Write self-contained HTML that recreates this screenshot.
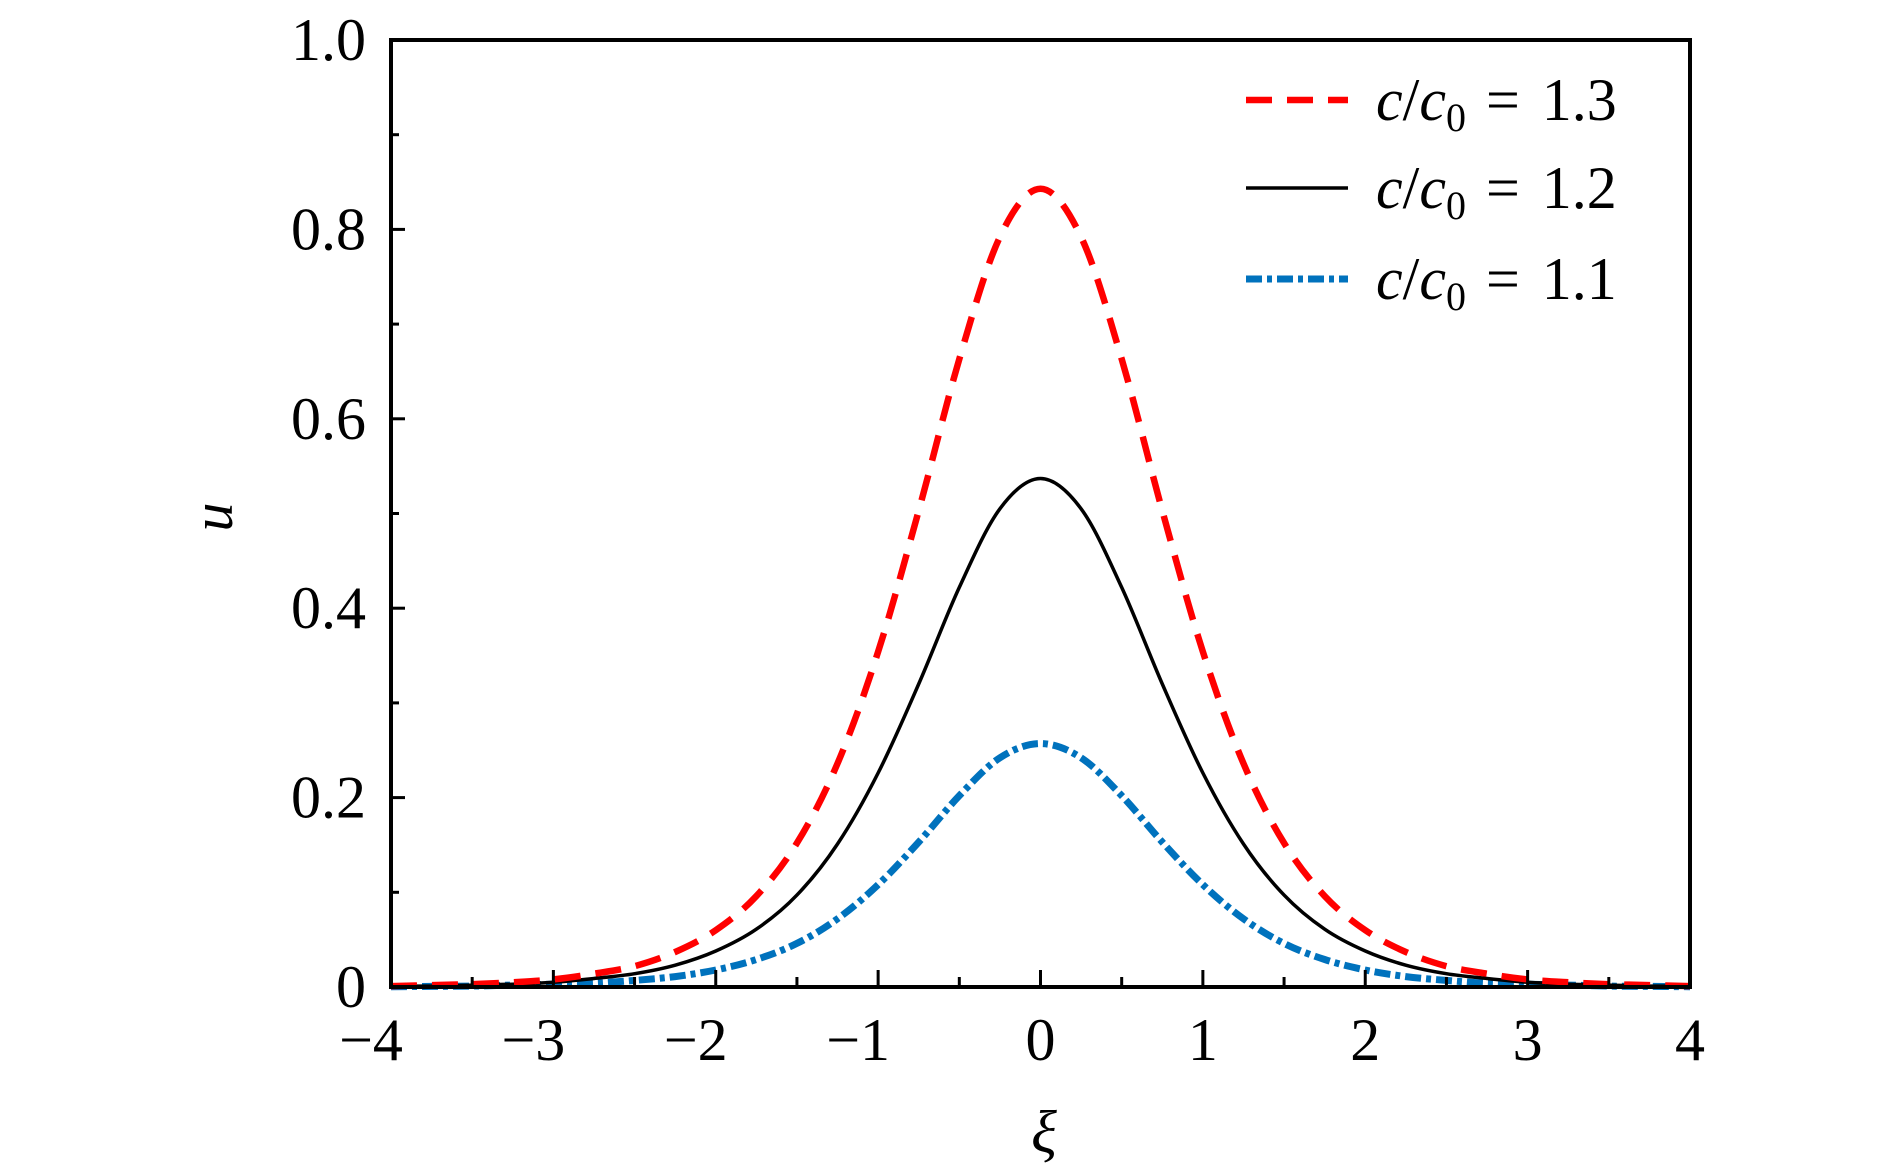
<!DOCTYPE html>
<html><head><meta charset="utf-8"><style>
html,body{margin:0;padding:0;background:#fff;}
svg{display:block;font-family:"Liberation Serif","DejaVu Serif",serif;}
</style></head><body>
<svg id="chart" width="1890" height="1170" viewBox="0 0 1890 1170" xmlns="http://www.w3.org/2000/svg">
<g id="marks"></g>
<g id="axes"></g>
<g id="legend"></g>
<text x="0" y="0" font-size="58" font-style="italic" text-anchor="middle" transform="translate(232,517) rotate(-90)">u</text>
<text x="1044" y="1152" font-size="60" font-style="italic" text-anchor="middle">ξ</text>
</svg>
<script>
const xHalf = [0,0.25,0.5,0.75,1,1.25,1.5,1.75,2,2.25,2.5,2.75,3,3.25,3.5,3.75,4];
const red13 = [0.843,0.792,0.663,0.503,0.354,0.236,0.152,0.096,0.060,0.037,0.022,0.014,0.008,0.005,0.003,0.002,0.001];
const black12 = [0.537,0.505,0.422,0.320,0.226,0.151,0.097,0.061,0.038,0.023,0.014,0.009,0.005,0.003,0.002,0.001,0.001];
const blue11 = [0.257,0.242,0.202,0.153,0.108,0.072,0.046,0.029,0.018,0.011,0.007,0.004,0.003,0.002,0.001,0.0006,0.0003];
const xTickLabels = ["−4","−3","−2","−1","0","1","2","3","4"];
const yTickLabels = ["0","0.2","0.4","0.6","0.8","1.0"];
const legendLabels = ["1.3","1.2","1.1"];

const NS="http://www.w3.org/2000/svg";
const L=391,R=1690,T=40,B=987;
const xs=v=>L+(v+4)/8*(R-L);
const ys=v=>B-v*(B-T);
function mk(tag,attrs,parent){const e=document.createElementNS(NS,tag);for(const k in attrs)e.setAttribute(k,attrs[k]);parent.appendChild(e);return e;}
const marks=document.getElementById('marks'),axes=document.getElementById('axes'),legend=document.getElementById('legend');

function fullPts(vals){
  const pts=[];
  for(let i=xHalf.length-1;i>0;i--)pts.push([xs(-xHalf[i]),ys(vals[i])]);
  for(let i=0;i<xHalf.length;i++)pts.push([xs(xHalf[i]),ys(vals[i])]);
  return pts;
}
function smooth(p){
  let d="M"+p[0][0].toFixed(1)+","+p[0][1].toFixed(1);
  for(let i=0;i<p.length-1;i++){
    const p0=p[Math.max(0,i-1)],p1=p[i],p2=p[i+1],p3=p[Math.min(p.length-1,i+2)];
    const c1=[p1[0]+(p2[0]-p0[0])/6,p1[1]+(p2[1]-p0[1])/6];
    const c2=[p2[0]-(p3[0]-p1[0])/6,p2[1]-(p3[1]-p1[1])/6];
    d+=" C"+c1[0].toFixed(1)+","+c1[1].toFixed(1)+" "+c2[0].toFixed(1)+","+c2[1].toFixed(1)+" "+p2[0].toFixed(1)+","+p2[1].toFixed(1);
  }
  return d;
}
const styles=[
  {vals:blue11,stroke:"#0072BD",w:7,dash:"16 5 5 5",name:"series-c-1-1"},
  {vals:black12,stroke:"#000",w:3.5,dash:"none",name:"series-c-1-2"},
  {vals:red13,stroke:"#FF0000",w:6.5,dash:"26 15",name:"series-c-1-3"}
];
styles.forEach(s=>{
  const p=mk('path',{d:smooth(fullPts(s.vals)),fill:"none",stroke:s.stroke,"stroke-width":s.w,"stroke-dasharray":s.dash},marks);
  
  
});

const fr=mk('rect',{x:L,y:T,width:R-L,height:B-T,fill:"none",stroke:"#000","stroke-width":4},axes);


for(let k=1;k<16;k++){
  const v=-4+k*0.5,major=k%2===0,len=major?17:10;
  const t=mk('line',{x1:xs(v),x2:xs(v),y1:B,y2:B-len,stroke:"#000","stroke-width":3},axes);
  
  
}
xTickLabels.forEach((lab,i)=>{
  const t=mk('text',{x:xs(-4+i)-(lab.length>1?20:0),y:1060,"font-size":60,"text-anchor":"middle"},axes);
  t.textContent=lab;
  
  
});
for(let k=1;k<10;k++){
  const v=k*0.1,major=k%2===0,len=major?14:8;
  const t=mk('line',{x1:L,x2:L+len,y1:ys(v),y2:ys(v),stroke:"#000","stroke-width":3},axes);
  
  
}
yTickLabels.forEach((lab,i)=>{
  const t=mk('text',{x:366,y:ys(i*0.2)+20,"font-size":60,"text-anchor":"end"},axes);
  t.textContent=lab;
  
  
});
const legStyles=[styles[2],styles[1],styles[0]];
const legY=[100,188,279];
legendLabels.forEach((lab,i)=>{
  const s=legStyles[i];
  const ln=mk('line',{x1:1246,x2:1348,y1:legY[i],y2:legY[i],stroke:s.stroke,"stroke-width":s.w,"stroke-dasharray":s.dash},legend);
  
  
  const t=mk('text',{x:1376,y:legY[i]+20,"font-size":60},legend);
  t.innerHTML='<tspan font-style="italic">c</tspan>/<tspan font-style="italic">c</tspan><tspan font-size="40" dy="11">0</tspan><tspan dy="-11" dx="20">=</tspan><tspan dx="22">'+lab+'</tspan>';
  
  
});
</script>
</body></html>
